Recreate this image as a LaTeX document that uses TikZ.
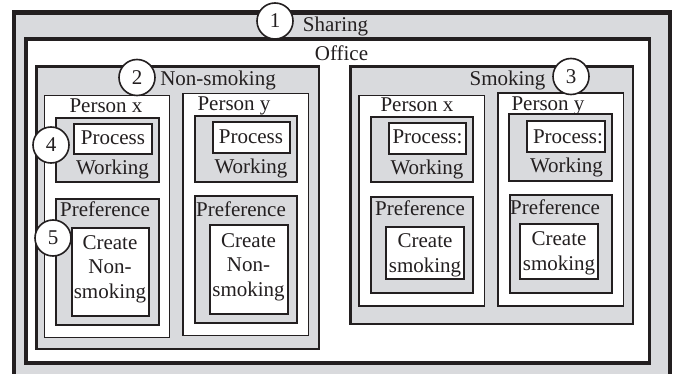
\documentclass[tikz,border=0pt]{standalone}
\usepackage{fontspec}
\setmainfont{Liberation Serif}
\usepackage{xcolor}

\definecolor{ink}{RGB}{35,31,32}
\definecolor{panel}{RGB}{217,218,221}

\begin{document}
\begin{tikzpicture}[x=1pt,y=-1pt,
    font=\fontsize{21}{24.5}\selectfont,
    sharebox/.style={draw=ink,line width=4.5pt,fill=panel},
    officebox/.style={draw=ink,line width=3.5pt,fill=white},
    groupbox/.style={draw=ink,line width=2.5pt,fill=panel},
    personbox/.style={draw=ink,line width=1.8pt,fill=white},
    taskbox/.style={draw=ink,line width=2pt,fill=panel},
    itembox/.style={draw=ink,line width=2pt,fill=white},
    lbl/.style={inner sep=0pt,text=ink,anchor=base,align=center},
    num/.style={circle,draw=ink,line width=1.6pt,fill=white,inner sep=0pt,
                minimum size=36pt,text=ink}]
    \useasboundingbox (0,0) rectangle (680,374);
    \clip (0,0) rectangle (680,374);

    % sharing and office frames
    \draw[sharebox] (14,12.5) rectangle (670,382);
    \draw[officebox] (26,39) rectangle (649.5,363);

    % non-smoking side
    \draw[groupbox] (36.5,66.5) rectangle (319,349);
    \draw[personbox] (44.5,95.5) rectangle (169.5,337.5);
    \draw[personbox] (183,93.5) rectangle (308.5,335.5);
    \draw[taskbox] (56,118) rectangle (158.5,182.5);
    \draw[itembox] (74,124) rectangle (151.5,154);
    \draw[taskbox] (195,116) rectangle (296.5,182);
    \draw[itembox] (212.5,122.5) rectangle (289.5,153);
    \draw[taskbox] (56,199) rectangle (158.5,324.5);
    \draw[itembox] (71.5,228) rectangle (149,315.5);
    \draw[taskbox] (195,196) rectangle (296.5,323);
    \draw[itembox] (210,225.5) rectangle (287.5,314);

    % smoking side
    \draw[groupbox] (350.5,66.5) rectangle (633,324);
    \draw[personbox] (359,95.5) rectangle (484.5,306);
    \draw[personbox] (498,93) rectangle (623.5,306);
    \draw[taskbox] (371,117) rectangle (473,182.5);
    \draw[itembox] (388.5,123.5) rectangle (466,154);
    \draw[taskbox] (508.5,114.5) rectangle (612,181.5);
    \draw[itembox] (527,121.5) rectangle (605,152.5);
    \draw[taskbox] (371,197) rectangle (473,293);
    \draw[itembox] (385.5,227) rectangle (463.5,279);
    \draw[taskbox] (509.5,195.5) rectangle (612,293);
    \draw[itembox] (519.5,224.5) rectangle (598,279);

    % labels
    \node[lbl] (sharing) at (335.5,32) {Sharing};
    \node[lbl] (office) at (341.5,61) {Office};
    \node[lbl] (nonsmk) at (218,86) {Non-smoking};
    \node[lbl] (smk) at (507.5,86) {Smoking};

    \node[lbl] (nspx) at (106,113) {Person x};
    \node[lbl] (nspy) at (234,110.5) {Person y};
    \node[lbl] (spx) at (417,112) {Person x};
    \node[lbl] (spy) at (548,110.5) {Person y};

    \node[lbl] (nsprocx) at (113,144.5) {Process};
    \node[lbl] (nsworkx) at (112.5,175) {Working};
    \node[lbl] (nsprocy) at (251,143.5) {Process};
    \node[lbl] (nsworky) at (251,174) {Working};
    \node[lbl] (sprocx) at (427.5,143.5) {Process:};
    \node[lbl] (sworkx) at (427,175) {Working};
    \node[lbl] (sprocy) at (568,143.5) {Process:};
    \node[lbl] (sworky) at (566.5,172.5) {Working};

    \node[lbl] (nsprefx) at (105,217) {Preference};
    \node[lbl] (nsprefy) at (241,217) {Preference};
    \node[lbl] (sprefx) at (420,215.5) {Preference};
    \node[lbl] (sprefy) at (555,214.5) {Preference};

    % base of a multi-line label sits on its last line
    \node[lbl] (nscreatex) at (110,298) {Create\\Non-\\smoking};
    \node[lbl] (nscreatey) at (248.5,296) {Create\\Non-\\smoking};
    \node[lbl] (screatex) at (425,272) {Create\\smoking};
    \node[lbl] (screatey) at (559,270) {Create\\smoking};

    % numbered markers
    \node[num] (n1) at (275,21) {1};
    \node[num] (n2) at (137,77.5) {2};
    \node[num] (n3) at (571,76.5) {3};
    \node[num] (n4) at (51,145) {4};
    \node[num] (n5) at (53,238) {5};
\end{tikzpicture}
\end{document}
